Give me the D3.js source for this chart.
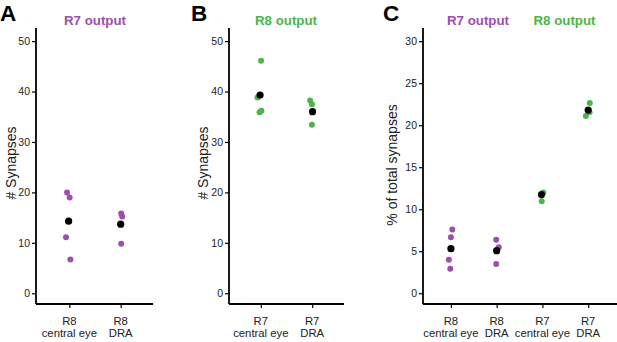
<!DOCTYPE html>
<html><head><meta charset="utf-8">
<script src="https://cdn.jsdelivr.net/npm/d3@7"></script>
<style>body{margin:0;background:#fff}svg{display:block;font-family:"Liberation Sans",Arial,sans-serif}</style>
</head><body>
<svg id="c" width="617" height="342"></svg>
<script>
// ---- data ----
const purple = "#9b50ab", green = "#4cb548";
// Panel A: R7 output (# synapses)
const aCats = [["R8","central eye"],["R8","DRA"]];
const aPoints = [[20.0,19.0,11.1,6.7],[15.8,15.2,9.8]];
const aJitter = [[-0.045,0.006,-0.065,0.02],[0.01,0.03,0.01]];
const aMeans = [14.3,13.7];
const aMeanJitter = [-0.014,0.0];
// Panel B: R8 output (# synapses)
const bCats = [["R7","central eye"],["R7","DRA"]];
const bPoints = [[46.1,38.8,36.2,35.9],[38.2,37.5,33.4]];
const bJitter = [[0.005,-0.065,0.01,-0.025],[-0.04,-0.005,-0.005]];
const bMeans = [39.3,36.0];
const bMeanJitter = [-0.015,0.008];
// Panel C: % of total synapses
const cCats = [["R8","central eye"],["R8","DRA"],["R7","central eye"],["R7","DRA"]];
const cPoints = [[7.6,6.67,4.0,2.93],[6.38,5.47,3.49],[11.98,10.95],[22.65,21.55,21.1]];
const cJitter = [[0.03,0.0,-0.045,-0.015],[-0.01,0.045,-0.01],[0.02,-0.015],[0.035,0.03,-0.05]];
const cMeans = [5.3,5.07,11.74,21.8];
const cMeanJitter = [0.0,0.0,-0.02,0.0];
const cColors = [purple,purple,green,green];
const yTicksAB = [0,10,20,30,40,50];
const yTicksC = [0,5,10,15,20,25,30];

const svg = d3.select("#c");

function panel(o){
  const x = d3.scaleLinear().domain(o.xDom).range(o.xRange);
  const y = d3.scaleLinear().domain(o.yDom).range([304,28]);
  const g = svg.append("g");
  // y axis
  const ya = g.append("g").attr("transform",`translate(${o.xRange[0]},0)`)
    .call(d3.axisLeft(y).tickValues(o.yTicks).tickSize(4).tickPadding(2));
  ya.select(".domain").attr("d",`M0,${y.range()[1]}V${y.range()[0]}`).attr("stroke","#000").attr("stroke-width",1.8);
  ya.selectAll(".tick line").attr("stroke","#000").attr("stroke-width",1.2);
  ya.selectAll(".tick text").attr("font-size",10.5).attr("fill","#222").attr("font-family","Liberation Sans, Arial, sans-serif");
  // x axis
  const xa = g.append("g").attr("transform",`translate(0,304)`)
    .call(d3.axisBottom(x).tickValues(d3.range(o.cats.length)).tickSize(4).tickFormat(""));
  xa.select(".domain").attr("d",`M${o.xRange[0]},0H${o.xRange[1]}`).attr("stroke","#000").attr("stroke-width",1.8);
  xa.selectAll(".tick line").attr("stroke","#000").attr("stroke-width",1.2);
  o.cats.forEach((c,i)=>{
    const t = g.append("text").attr("x",x(i)).attr("text-anchor","middle").attr("font-size",11.3).attr("fill","#222");
    t.append("tspan").attr("x",x(i)).attr("y",325).text(c[0]);
    t.append("tspan").attr("x",x(i)).attr("y",337).text(c[1]);
  });
  // y title
  g.append("text").attr("transform",`translate(${o.yTitleX},${o.yTitleY}) rotate(-90)`)
    .attr("text-anchor","middle").attr("font-size",14).attr("fill","#222").text(o.yTitle);
  // points
  o.points.forEach((arr,i)=>{
    g.selectAll(null).data(arr.map((v,j)=>({v,j:o.jitter[i][j]}))).enter().append("circle")
      .attr("cx",d=>x(i+d.j)).attr("cy",d=>y(d.v)).attr("r",3).attr("fill",o.colors[i]);
  });
  g.selectAll(null).data(o.means).enter().append("circle")
    .attr("cx",(d,i)=>x(i+o.meanJitter[i])).attr("cy",d=>y(d)).attr("r",3.6).attr("fill","#000");
  // titles
  o.titles.forEach(t=>{
    g.append("text").attr("x",t.x).attr("y",25).attr("text-anchor","middle").attr("font-size",13.3)
      .attr("font-weight","bold").attr("fill",t.color).text(t.text);
  });
  // letter
  g.append("text").attr("x",o.letterX).attr("y",21).attr("font-size",22.5).attr("font-weight","bold").attr("fill","#000").text(o.letter);
}

panel({xDom:[-0.65,1.63],xRange:[36,153],yDom:[-2.13,52.6],yTicks:yTicksAB,cats:aCats,points:aPoints,jitter:aJitter,
  means:aMeans,meanJitter:aMeanJitter,colors:[purple,purple],yTitle:"# Synapses",yTitleX:15.5,yTitleY:163,
  titles:[{x:95,text:"R7 output",color:purple}],letter:"A",letterX:0});
panel({xDom:[-0.62,1.62],xRange:[229,344],yDom:[-2.13,52.6],yTicks:yTicksAB,cats:bCats,points:bPoints,jitter:bJitter,
  means:bMeans,meanJitter:bMeanJitter,colors:[green,green],yTitle:"# Synapses",yTitleX:208,yTitleY:163,
  titles:[{x:286,text:"R8 output",color:green}],letter:"B",letterX:191});
panel({xDom:[-0.61,3.63],xRange:[423,617],yDom:[-1.28,31.57],yTicks:yTicksC,cats:cCats,points:cPoints,jitter:cJitter,
  means:cMeans,meanJitter:cMeanJitter,colors:cColors,yTitle:"% of total synapses",yTitleX:396.5,yTitleY:165,
  titles:[{x:478,text:"R7 output",color:purple},{x:564.5,text:"R8 output",color:green}],letter:"C",letterX:383});
</script>
</body></html>
